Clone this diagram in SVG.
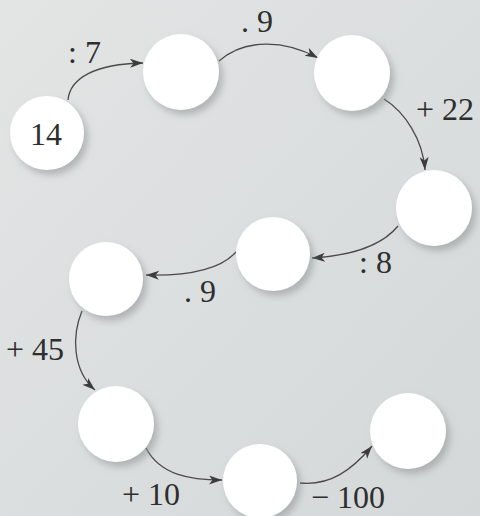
<svg xmlns="http://www.w3.org/2000/svg" width="480" height="516" viewBox="0 0 480 516">
<defs>
<linearGradient id="bg" x1="0" y1="0" x2="1" y2="1">
<stop offset="0" stop-color="#e3e5e5"/>
<stop offset="1" stop-color="#d4d8d8"/>
</linearGradient>
<filter id="sh" x="-30%" y="-30%" width="170%" height="170%">
<feDropShadow dx="4" dy="5" stdDeviation="3.5" flood-color="#8a9090" flood-opacity="0.55"/>
</filter>
<marker id="ar" markerUnits="userSpaceOnUse" markerWidth="14" markerHeight="10" refX="13" refY="4.5" orient="auto">
<path d="M0,0 L13,4.5 L0,9 L3.5,4.5 z" fill="#3c3c3c"/>
</marker>
</defs>
<style>
.n{fill:#ffffff;filter:url(#sh)}
.c{fill:none;stroke:#4a4a4a;stroke-width:1.3;marker-end:url(#ar)}
.t{font-family:"Liberation Serif","Times New Roman",serif;font-size:32px;fill:#2e2e2e}
</style>
<rect width="480" height="516" fill="url(#bg)"/>
<g id="connectors">
<path class="c" d="M68,100 C70,78 95,64 143,63"/>
<path class="c" d="M219,61 C245,38 285,40 318,58"/>
<path class="c" d="M384,99 C405,112 423,140 425,170"/>
<path class="c" d="M398,226 C380,248 345,256 312,258"/>
<path class="c" d="M236,252 C220,270 185,276 146,275"/>
<path class="c" d="M82,311 C72,335 72,370 95,390"/>
<path class="c" d="M146,448 C160,475 190,480 222,480"/>
<path class="c" d="M300,483 C330,486 352,470 372,446"/>
</g>
<g id="labels">
<text class="t" x="68" y="63">: 7</text>
<text class="t" x="241" y="32">. 9</text>
<text class="t" x="416" y="120">+ 22</text>
<text class="t" x="359" y="273">: 8</text>
<text class="t" x="184" y="302">. 9</text>
<text class="t" x="6" y="360">+ 45</text>
<text class="t" x="122" y="505">+ 10</text>
<text class="t" x="311" y="508">− 100</text>
</g>
<g id="n1"><circle class="n" cx="47" cy="133" r="37"/><text class="t" x="46" y="145" text-anchor="middle">14</text></g>
<g id="n2"><circle class="n" cx="181" cy="72" r="38"/></g>
<g id="n3"><circle class="n" cx="352" cy="73" r="38"/></g>
<g id="n4"><circle class="n" cx="434" cy="208" r="38"/></g>
<g id="n5"><circle class="n" cx="273" cy="254" r="37"/></g>
<g id="n6"><circle class="n" cx="106" cy="279" r="37"/></g>
<g id="n7"><circle class="n" cx="116" cy="424" r="38"/></g>
<g id="n8"><circle class="n" cx="260" cy="481" r="37"/></g>
<g id="n9"><circle class="n" cx="408" cy="431" r="38"/></g>
</svg>
